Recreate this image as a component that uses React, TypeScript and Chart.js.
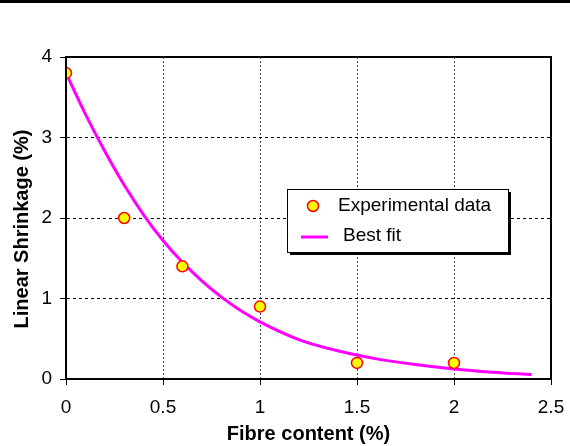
import React, { useEffect, useRef } from "react";
import { Chart, registerables } from "chart.js";

Chart.register(...registerables);

const expX = [0, 0.3, 0.6, 1.0, 1.5, 2.0];
const expY = [3.8, 2.0, 1.4, 0.9, 0.2, 0.2];

const fitX = [0, 0.1, 0.2, 0.3, 0.4, 0.5, 0.6, 0.7, 0.8, 0.9, 1.0, 1.2, 1.4, 1.6, 1.8, 2.0, 2.2, 2.4];
const fitY = [3.8, 3.29, 2.83, 2.41, 2.04, 1.72, 1.45, 1.22, 1.02, 0.85, 0.71, 0.49, 0.35, 0.25, 0.18, 0.125, 0.085, 0.055];

const xTicks = [0, 0.5, 1, 1.5, 2, 2.5];
const yTicks = [0, 1, 2, 3, 4];

const seriesNames = ["Experimental data", "Best fit"];
const xTitle = "Fibre content (%)";
const yTitle = "Linear Shrinkage (%)";

const FONT = "Arial, 'Liberation Sans', sans-serif";

const decorPlugin = {
  id: "decor",
  afterDraw(chart: any) {
    const ctx = chart.ctx;
    const a = chart.chartArea;
    ctx.save();
    ctx.fillStyle = "#000";
    ctx.fillRect(0, 0, chart.width, 3);
    ctx.strokeStyle = "#000";
    ctx.lineWidth = 2;
    ctx.setLineDash([]);
    ctx.strokeRect(a.left, a.top, a.right - a.left, a.bottom - a.top);
    ctx.fillStyle = "#000";
    ctx.font = "bold 20px " + FONT;
    ctx.textAlign = "center";
    ctx.textBaseline = "middle";
    ctx.fillText(xTitle, (a.left + a.right) / 2, 434);
    ctx.save();
    ctx.translate(22, 229);
    ctx.rotate(-Math.PI / 2);
    ctx.fillText(yTitle, 0, 0);
    ctx.restore();
    const lx = 287, ly = 189, lw = 221, lh = 63;
    ctx.fillStyle = "#000";
    ctx.fillRect(lx + 3, ly + 3, lw, lh);
    ctx.fillStyle = "#fff";
    ctx.fillRect(lx, ly, lw, lh);
    ctx.strokeStyle = "#000";
    ctx.lineWidth = 1;
    ctx.strokeRect(lx + 0.5, ly + 0.5, lw, lh);
    ctx.beginPath();
    ctx.arc(313, 206, 5.5, 0, Math.PI * 2);
    ctx.fillStyle = "#ffff00";
    ctx.fill();
    ctx.strokeStyle = "#ff0000";
    ctx.lineWidth = 1.5;
    ctx.stroke();
    ctx.strokeStyle = "#ff00ff";
    ctx.lineWidth = 3;
    ctx.beginPath();
    ctx.moveTo(301, 237);
    ctx.lineTo(328, 237);
    ctx.stroke();
    ctx.fillStyle = "#000";
    ctx.font = "19px " + FONT;
    ctx.textAlign = "left";
    ctx.textBaseline = "middle";
    ctx.fillText(seriesNames[0], 338, 206);
    ctx.fillText(seriesNames[1], 343, 236);
    ctx.restore();
  },
};

export default function App() {
  const ref = useRef<HTMLCanvasElement | null>(null);
  useEffect(() => {
    document.body.style.margin = "0";
    const canvas = ref.current!;
    const chart = new Chart(canvas, {
      type: "scatter",
      data: {
        datasets: [
          {
            label: seriesNames[0],
            data: expX.map((x, i) => ({ x, y: expY[i] })),
            backgroundColor: "#ffff00",
            borderColor: "#ff0000",
            borderWidth: 1.5,
            pointRadius: 5.5,
            showLine: false,
          },
          {
            label: seriesNames[1],
            data: fitX.map((x, i) => ({ x, y: fitY[i] })),
            borderColor: "#ff00ff",
            backgroundColor: "#ff00ff",
            borderWidth: 3,
            pointRadius: 0,
            showLine: true,
            cubicInterpolationMode: "monotone",
          } as any,
        ],
      },
      options: {
        animation: false,
        responsive: false,
        devicePixelRatio: 1,
        layout: { padding: { left: 0, top: 57, right: 19, bottom: 0 } },
        plugins: { legend: { display: false }, tooltip: { enabled: false } },
        scales: {
          x: {
            type: "linear",
            min: 0,
            max: 2.5,
            afterBuildTicks: (s: any) => {
              s.ticks = xTicks.map((v) => ({ value: v }));
            },
            afterFit: (s: any) => {
              s.height = 67;
              s.paddingLeft = 0;
              s.paddingRight = 0;
            },
            ticks: {
              color: "#000",
              font: { family: FONT, size: 19 },
              padding: 11,
              maxRotation: 0,
              callback: (v: any) => String(v),
            },
            grid: {
              color: "#444",
              lineWidth: 1,
              tickLength: 6,
              tickColor: "#000",
              tickWidth: 1,
            },
            border: { display: true, color: "#000", width: 2, dash: [2, 2] },
          },
          y: {
            type: "linear",
            min: 0,
            max: 4,
            afterBuildTicks: (s: any) => {
              s.ticks = yTicks.map((v) => ({ value: v }));
            },
            afterFit: (s: any) => {
              s.width = 66;
              s.paddingTop = 0;
              s.paddingBottom = 0;
            },
            ticks: {
              color: "#000",
              font: { family: FONT, size: 19 },
              padding: 8,
              callback: (v: any) => String(v),
            },
            grid: {
              color: "#000",
              lineWidth: 1,
              tickLength: 6,
              tickColor: "#000",
              tickWidth: 1,
            },
            border: { display: true, color: "#000", width: 2, dash: [3, 3] },
          },
        },
      },
      plugins: [decorPlugin],
    });
    return () => chart.destroy();
  }, []);
  return <canvas ref={ref} width={570} height={446} style={{ display: "block" }} />;
}
